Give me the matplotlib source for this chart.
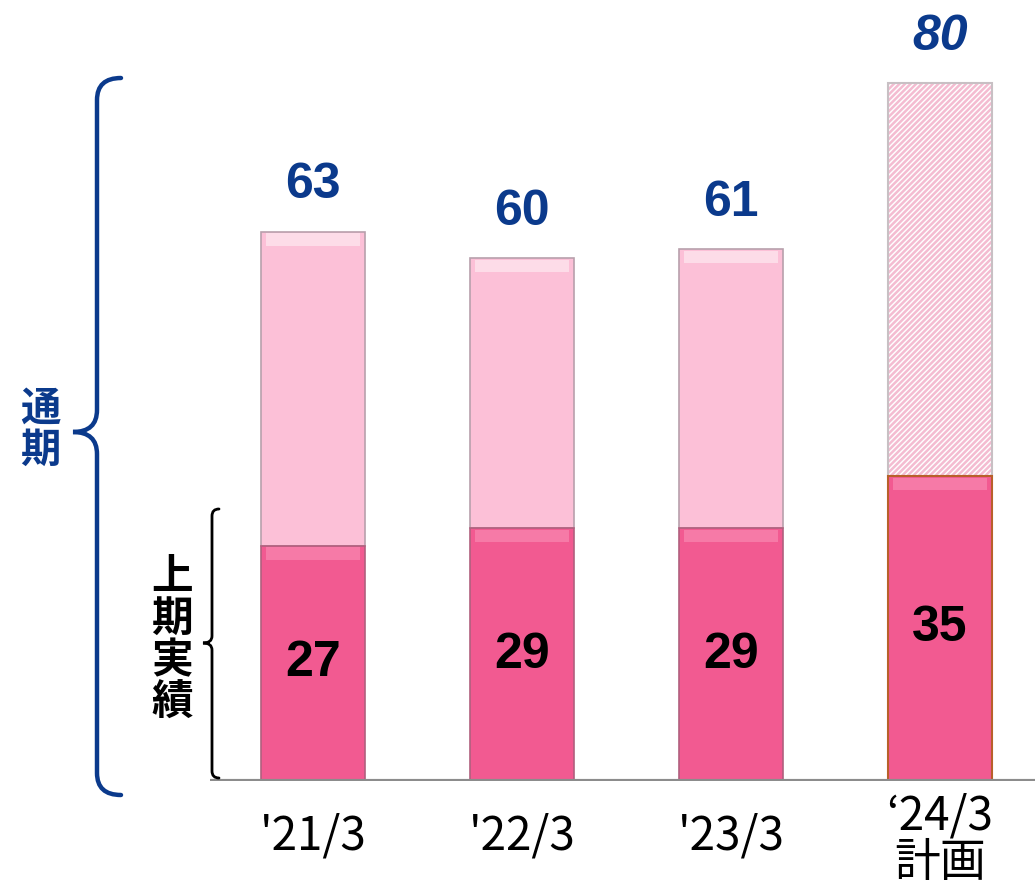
import matplotlib.pyplot as plt
from matplotlib.path import Path
from matplotlib.patches import PathPatch

# データ
periods = ["'21/3", "'22/3", "'23/3", "‘24/3\n計画"]
first_half = [27, 29, 29, 35]
full_year = [63, 60, 61, 80]
is_plan = [False, False, False, True]

BLUE = '#0B3A8C'
PINK_DARK = '#F25A91'
PINK_LIGHT = '#FCC0D7'
plt.rcParams['hatch.linewidth'] = 1.8

fig = plt.figure(figsize=(10.35, 8.88), dpi=100)
ax = fig.add_axes([210 / 1035, 107 / 888, 825 / 1035, 781 / 888])
ax.set_xlim(-0.493, 3.455)
ax.set_ylim(0, 89.56)
ax.axis('off')

x = list(range(len(periods)))
w = 0.5
num_font = ['Liberation Sans', 'DejaVu Sans']
jp_font = ['Noto Sans CJK JP', 'DejaVu Sans']
narrow_font = ['Liberation Sans Narrow', 'Noto Sans CJK JP', 'DejaVu Sans']

for i in x:
    fy, fh = full_year[i], first_half[i]
    if is_plan[i]:
        ax.bar(i, fy - fh, w, bottom=fh, color='white', edgecolor='#F4BCD1',
               hatch='//////', linewidth=0)
        ax.bar(i, fy - fh, w, bottom=fh, fill=False, edgecolor='#C8C0C4', linewidth=1.5)
        ax.bar(i, fh, w, color=PINK_DARK, edgecolor='#B8602A', linewidth=1.5)
    else:
        ax.bar(i, fy - fh, w, bottom=fh, color=PINK_LIGHT, edgecolor='#B8A0AC', linewidth=1.2)
        ax.bar(i, 1.4, w * 0.9, bottom=fy - 1.6, color='#FDDCE8', linewidth=0)
        ax.bar(i, fh, w, color=PINK_DARK, edgecolor='#B0607E', linewidth=1.2)
    ax.bar(i, 1.4, w * 0.9, bottom=fh - 1.6, color='#F67AA7', linewidth=0)

    ax.text(i, fy + 5.3, str(fy), ha='center', va='center', fontsize=36,
            fontweight='bold', color=BLUE, family=num_font,
            style='italic' if is_plan[i] else 'normal')
    ax.text(i, fh / 2, str(fh), ha='center', va='center', fontsize=36,
            fontweight='bold', color='black', family=num_font)
    ax.text(i, -6.7 if is_plan[i] else -6.3, periods[i], ha='center', va='center',
            fontsize=33, color='black', family=narrow_font, linespacing=0.95,
            style='italic' if is_plan[i] else 'normal', clip_on=False)

ax.axhline(0, color='#8C8C8C', linewidth=3)

# 括弧とラベル(ピクセル座標)
ov = fig.add_axes([0, 0, 1, 1])
ov.set_xlim(0, 1035)
ov.set_ylim(888, 0)
ov.axis('off')


def brace(x_line, x_end, x_tip, y0, y1, ytip, r, color, lw):
    verts = [(x_end, y0), (x_line, y0), (x_line, y0 + r),
             (x_line, ytip - r), (x_line, ytip), (x_tip, ytip),
             (x_line, ytip), (x_line, ytip + r),
             (x_line, y1 - r), (x_line, y1), (x_end, y1)]
    codes = [Path.MOVETO, Path.CURVE3, Path.CURVE3,
             Path.LINETO, Path.CURVE3, Path.CURVE3,
             Path.CURVE3, Path.CURVE3,
             Path.LINETO, Path.CURVE3, Path.CURVE3]
    ov.add_patch(PathPatch(Path(verts, codes), fill=False, edgecolor=color,
                           linewidth=lw, capstyle='round'))


brace(97, 121, 73, 78, 795, 432, 22, BLUE, 3.2)
brace(212, 219, 203, 509, 778, 643, 7, 'black', 2.0)

ov.text(40, 430, '通\n期', ha='center', va='center', fontsize=29, fontweight='bold',
        color=BLUE, family=jp_font, linespacing=1.0)
ov.text(172, 640, '上\n期\n実\n績', ha='center', va='center', fontsize=30,
        fontweight='bold', color='black', family=jp_font, linespacing=1.0)

fig.savefig('out.png', dpi=100)
